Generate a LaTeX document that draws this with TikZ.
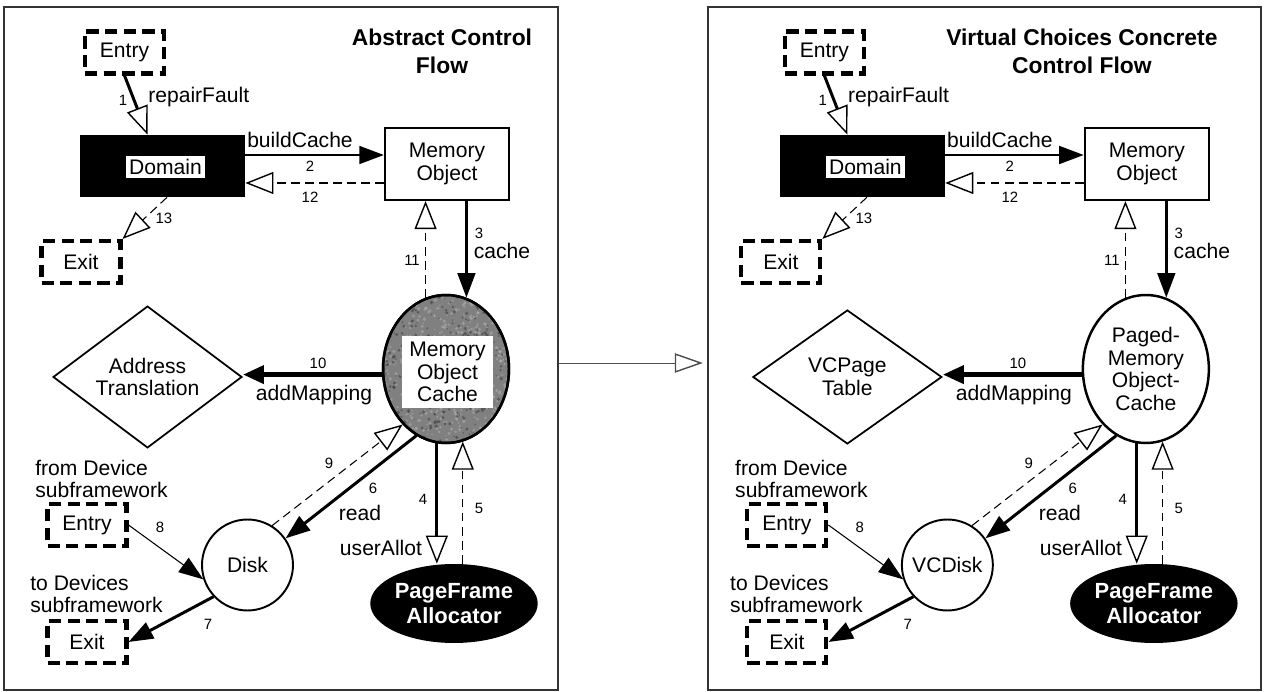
\documentclass[tikz,border=0pt]{standalone}
\usepackage{fontspec}
\setmainfont{Liberation Sans}
\usetikzlibrary{arrows.meta,shapes.geometric,calc}

% one unit = one drawing pixel; y grows downwards
\tikzset{
  x=0.02cm, y=-0.02cm,
  lbl/.style={font=\fontsize{12}{13}\selectfont, inner sep=0pt, align=center},
  num/.style={font=\fontsize{8.5}{9}\selectfont, inner sep=0pt},
  ttl/.style={font=\fontsize{13}{16}\selectfont\bfseries, align=center, inner sep=0pt},
  frame/.style={draw=black!80, line width=0.9pt, minimum height=13.66cm},
  port/.style={draw, line width=2.3pt, dash pattern=on 7pt off 3.6pt,
    minimum width=1.58cm, minimum height=0.84cm, lbl},
  classbox/.style={draw, line width=1.2pt, minimum width=2.48cm, minimum height=1.44cm, lbl},
  blackbox/.style={fill=black, minimum width=3.3cm, minimum height=1.24cm},
  whitetag/.style={fill=white, lbl, inner sep=2pt},
  diam/.style={diamond, draw, line width=1pt, minimum width=3.78cm, minimum height=2.68cm, inner sep=0pt, lbl},
  diskshape/.style={circle, draw, line width=1.1pt, minimum size=1.82cm, inner sep=0pt, lbl},
  cacheshape/.style={ellipse, draw, line width=1.4pt, minimum width=2.52cm, minimum height=2.96cm, inner sep=0pt, lbl},
  allocshape/.style={ellipse, fill=black, minimum width=3.32cm, minimum height=1.58cm, inner sep=0pt,
    text=white, font=\fontsize{12.5}{14}\selectfont\bfseries, align=center},
  openhead/.style={-{Triangle[open, length=16pt, width=12.5pt, line width=0.8pt]}},
  fullhead/.style={-{Triangle[length=14pt, width=10pt]}},
  callarrow/.style={openhead, line width=1.7pt},
  sendarrow/.style={fullhead, line width=1.7pt},
  backarrow/.style={openhead, line width=0.6pt, dash pattern=on 5pt off 3pt},
}

% one control-flow panel; #1 title, #2 title x, #3 diamond text,
% #4 disk text, #5 style of the cache ellipse, #6 text of the cache ellipse
\newcommand\cfpanel[6]{%
  \node[ttl] (title) at (#2,51) {#1};
  \node[port] (entry) at (124.5,52.5) {Entry};
  \node[port] (exit) at (81,262) {Exit};
  \node[blackbox] (dom) at (162.5,166) {};
  \node[whitetag] (domlbl) at (165.5,167) {Domain};
  \node[classbox] (mo) at (447,164) {Memory\\Object};
  \node[cacheshape, #5] (moc) at (446,369) {#6};
  \node[diam] (at) at (147.5,377) {#3};
  \node[diskshape] (disk) at (247.5,565) {#4};
  \node[allocshape] (pfa) at (454,603.5) {PageFrame\\Allocator};
  \node[port] (dentry) at (87,525) {Entry};
  \node[port] (dexit) at (87,642) {Exit};
  \node[lbl, anchor=west, align=left] (fromdev) at (35,479) {from Device\\subframework};
  \node[lbl, anchor=west, align=left] (todev) at (30,594) {to Devices\\subframework};
  % messages
  \draw[callarrow] (entry.south) -- ([xshift=-0.3cm]dom.north);
  \draw[sendarrow] ([yshift=0.22cm]dom.east) -- ([yshift=0.22cm]dom.east -| mo.west);
  \draw[backarrow] ([yshift=-0.34cm]dom.east -| mo.west) -- ([yshift=-0.34cm]dom.east);
  \draw[backarrow] ([xshift=0.09cm]dom.south) -- (exit.north east);
  \draw[sendarrow] (moc.74 |- mo.south) -- (moc.74);
  \draw[backarrow] (moc.106) -- (moc.106 |- mo.south);
  \draw[-{Triangle[length=12pt, width=10pt]}, line width=2.8pt] (moc.185) -- (moc.185 -| at.east);
  \draw[sendarrow] (moc.246) -- (disk.35);
  \draw[backarrow] (disk.58) -- (moc.232);
  \draw[callarrow] (moc.263) -- (moc.263 |- pfa.north);
  \draw[backarrow] (moc.283 |- pfa.north) -- (moc.283);
  \draw[-{Triangle[length=14pt, width=10pt]}, line width=0.6pt] (dentry.east) -- (disk.198);
  \draw[sendarrow] (disk.223) -- (dexit.east);
  % message labels
  \node[num] (n1) at (123,100) {1};
  \node[lbl, anchor=west] (l1) at (148,97) {repairFault};
  \node[lbl] (l2) at (300,140) {buildCache};
  \node[num] (n2) at (310,166) {2};
  \node[num] (n12) at (310,197) {12};
  \node[num] (n13) at (164,218) {13};
  \node[num] (n3) at (479,233) {3};
  \node[lbl] (l3) at (502,251) {cache};
  \node[num] (n11) at (412,260) {11};
  \node[num] (n10) at (318,363) {10};
  \node[lbl] (l10) at (314,395) {addMapping};
  \node[num] (n9) at (329,463) {9};
  \node[num] (n6) at (373,488) {6};
  \node[lbl] (l6) at (360,513) {read};
  \node[num] (n4) at (423,499) {4};
  \node[lbl] (l4) at (381,548) {userAllot};
  \node[num] (n5) at (479,508) {5};
  \node[num] (n8) at (160,527) {8};
  \node[num] (n7) at (208,624) {7};
}

\begin{document}
\begin{tikzpicture}
\useasboundingbox (0,0) rectangle (1268,692);

\node[frame, minimum width=11.08cm] (lframe) at (281,348.5) {};
\node[frame, minimum width=11.06cm] (rframe) at (984.5,348.5) {};
\draw[line width=0.5pt, black!70, shorten >=2.5pt,
  -{Triangle[open, length=16pt, width=11pt, line width=0.8pt]}]
  (lframe.east |- 0,363) -- (rframe.west |- 0,363);

\begin{scope}[name prefix=L-]
  \cfpanel{Abstract Control\\Flow}{442}{Address\\Translation}{Disk}
    {fill=black!50}{}
  % mottled grain inside the shaded cache ellipse
  \begin{scope}
    \clip (446,369) ellipse [x radius=1.24cm, y radius=1.46cm];
    \pgfmathsetseed{4711}
    \foreach \k in {1,...,900} {
      \pgfmathsetmacro\gx{446+62*rand}
      \pgfmathsetmacro\gy{369+73*rand}
      \pgfmathsetmacro\gs{0.4+0.7*rnd}
      \pgfmathsetmacro\gt{rnd>0.45 ? 30 : 78}
      \fill[black!\gt, opacity=0.55] (\gx,\gy) circle [radius=\gs pt];
    }
  \end{scope}
  \draw[line width=1.4pt] (L-moc.center) ellipse [x radius=1.26cm, y radius=1.48cm];
  \node[whitetag, minimum width=1.82cm, minimum height=1.44cm] (L-moclbl) at (447.5,372)
    {Memory\\Object\\Cache};
\end{scope}

\begin{scope}[xshift=14cm, name prefix=R-]
  \cfpanel{Virtual Choices Concrete\\Control Flow}{382}{VCPage\\Table}{VCDisk}
    {fill=white}{Paged-\\Memory\\Object-\\Cache}
\end{scope}
\end{tikzpicture}
\end{document}
